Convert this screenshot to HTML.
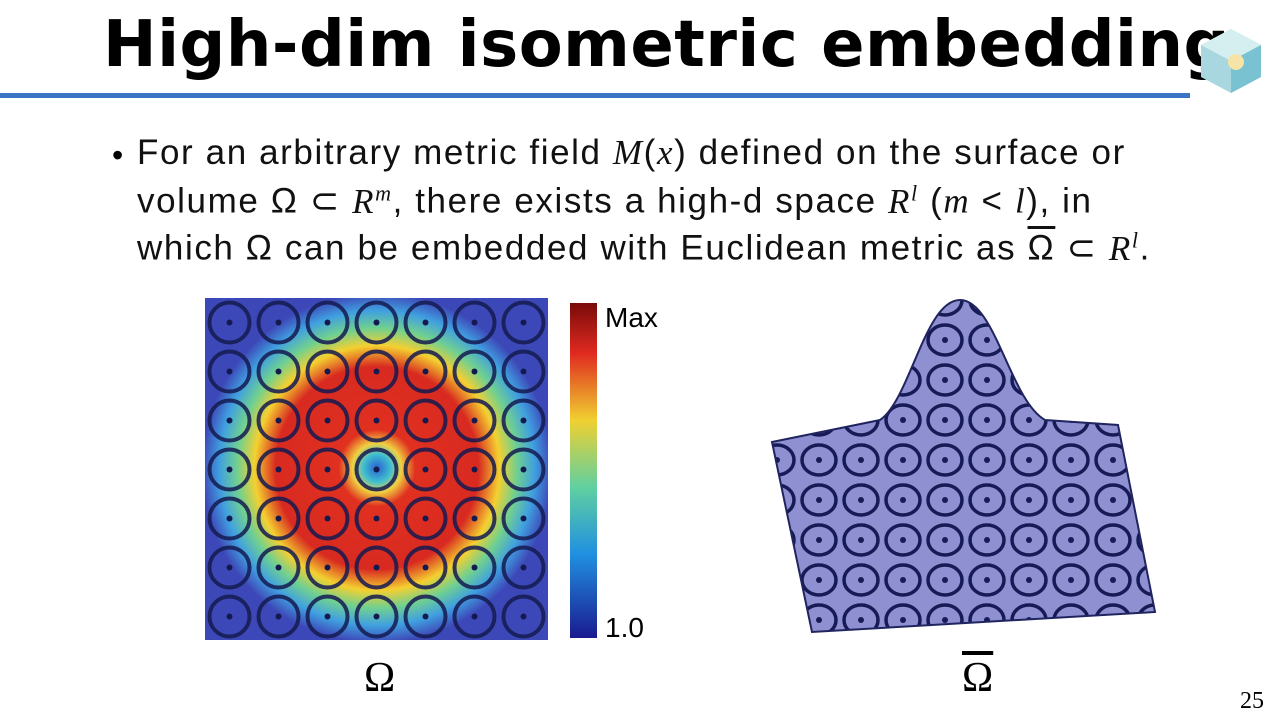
<!DOCTYPE html>
<html><head><meta charset="utf-8">
<style>
html,body{margin:0;padding:0;background:#fff;}
body{width:1280px;height:717px;position:relative;overflow:hidden;font-family:"Liberation Sans","DejaVu Sans",sans-serif;}
.title{position:absolute;left:103px;top:8px;font-size:64px;font-weight:bold;color:#000;letter-spacing:0.5px;font-family:"DejaVu Sans","Liberation Sans",sans-serif;white-space:nowrap;}
.bar{position:absolute;left:0;top:93px;width:1190px;height:5px;background:#3b74c4;}
.txt{position:absolute;left:137px;font-size:35px;letter-spacing:1.6px;color:#111;white-space:nowrap;}
.m{font-family:"Liberation Serif",serif;font-style:italic;}
.bul{position:absolute;left:112px;top:137px;font-size:32px;}
.lab{position:absolute;font-size:28px;color:#000;}
</style></head><body>
<div class="title">High-dim isometric embedding</div>
<div class="bar"></div>
<svg style="position:absolute;left:1195px;top:25px" width="72" height="72" viewBox="0 0 72 72">
<polygon points="36,4 66,20 66,52 36,68 6,52 6,20" fill="#a9d7df"/>
<polygon points="36,4 66,20 36,36 6,20" fill="#d5eef0"/>
<polygon points="36,36 66,20 66,52 36,68" fill="#79c2d2"/>
<circle cx="41" cy="37" r="8" fill="#f6e3a6"/>
</svg>
<div class="bul">•</div>
<div class="txt" style="top:133px">For an arbitrary metric field <span class="m">M</span>(<span class="m">x</span>) defined on the surface or</div>
<div class="txt" style="top:180px">volume Ω ⊂ <span class="m">R<sup style="font-size:22px">m</sup></span>, there exists a high-d space <span class="m">R<sup style="font-size:22px">l</sup></span> (<span class="m">m</span> &lt; <span class="m">l</span>), in</div>
<div class="txt" style="top:227px">which Ω can be embedded with Euclidean metric as <span style="text-decoration:overline">Ω</span> ⊂ <span class="m">R<sup style="font-size:22px">l</sup></span>.</div>

<svg style="position:absolute;left:0;top:0" width="1280" height="717">
<defs>
<radialGradient id="heat" cx="377" cy="468" r="175" gradientUnits="userSpaceOnUse">
<stop offset="0" stop-color="#2a60d0"/>
<stop offset="0.08" stop-color="#40c0d0"/>
<stop offset="0.14" stop-color="#f0d040"/>
<stop offset="0.22" stop-color="#e03020"/>
<stop offset="0.58" stop-color="#d82a20"/>
<stop offset="0.7" stop-color="#f4d030"/>
<stop offset="0.8" stop-color="#70d090"/>
<stop offset="0.9" stop-color="#40a0e0"/>
<stop offset="1" stop-color="#3d48b8"/>
</radialGradient>
<linearGradient id="cb" x1="0" y1="0" x2="0" y2="1">
<stop offset="0" stop-color="#7a0a0a"/><stop offset="0.15" stop-color="#e02a20"/>
<stop offset="0.35" stop-color="#f0d030"/><stop offset="0.55" stop-color="#60d0a0"/>
<stop offset="0.75" stop-color="#2090e0"/><stop offset="1" stop-color="#1a1a90"/>
</linearGradient>
<pattern id="cir" x="205" y="298" width="49" height="49" patternUnits="userSpaceOnUse">
<circle cx="24.5" cy="24.5" r="20" fill="none" stroke="#141a50" stroke-width="4" opacity="0.85"/>
<circle cx="24.5" cy="24.5" r="3" fill="#141a50"/>
</pattern>
<pattern id="cir2" x="0" y="0" width="42" height="40" patternUnits="userSpaceOnUse">
<ellipse cx="21" cy="20" rx="17" ry="15" fill="none" stroke="#161a55" stroke-width="3.5"/>
<circle cx="21" cy="20" r="3" fill="#161a55"/>
</pattern>
</defs>
<rect x="205" y="298" width="343" height="342" fill="#3d48b8"/>
<rect x="205" y="298" width="343" height="342" fill="url(#heat)"/>
<rect x="205" y="298" width="343" height="342" fill="url(#cir)"/>
<rect x="570" y="303" width="27" height="335" fill="url(#cb)"/>
<path id="surf" d="M772,442 L880,420 C910,400 925,300 960,300 C995,300 1010,400 1045,420 L1118,425 L1155,612 L812,632 Z" fill="#8e90d2"/>
<path d="M772,442 L880,420 C910,400 925,300 960,300 C995,300 1010,400 1045,420 L1118,425 L1155,612 L812,632 Z" fill="url(#cir2)"/>
<path d="M772,442 L880,420 C910,400 925,300 960,300 C995,300 1010,400 1045,420 L1118,425 L1155,612 L812,632 Z" fill="none" stroke="#202560" stroke-width="2"/>
</svg>
<div class="lab" style="left:605px;top:302px">Max</div>
<div class="lab" style="left:605px;top:612px">1.0</div>
<div style="position:absolute;left:364px;top:654px;font-size:42px;font-family:'Liberation Serif',serif">Ω</div>
<div style="position:absolute;left:962px;top:654px;font-size:42px;font-family:'Liberation Serif',serif;text-decoration:overline">Ω</div>
<div style="position:absolute;left:1240px;top:688px;font-size:24px;font-family:'Liberation Serif',serif">25</div>
</body></html>
